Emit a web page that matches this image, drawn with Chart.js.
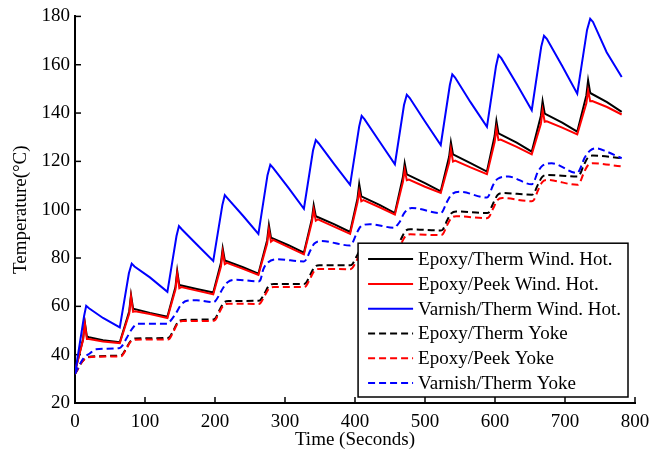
<!DOCTYPE html>
<html>
<head>
<meta charset="utf-8">
<script src="https://cdn.jsdelivr.net/npm/chart.js@4.4.1/dist/chart.umd.min.js"></script>
<style>
  html, body { margin: 0; padding: 0; background: #fff; }
  #wrap { width: 666px; height: 455px; }
</style>
</head>
<body>
<div id="wrap"><canvas id="grafico-temperatura"></canvas></div>
<script>
// series labels
var seriesLabels = ['Epoxy/Therm Wind. Hot.', 'Epoxy/Peek Wind. Hot.', 'Varnish/Therm Wind. Hot.',
	'Epoxy/Therm Yoke', 'Epoxy/Peek Yoke', 'Varnish/Therm Yoke'];

// Epoxy/Therm winding hot spot (time s, temperature C)
var epoxyThermWindT = [0, 11.5, 14, 17, 20, 40, 64,
	77.5, 80, 83, 107, 132,
	143.5, 146, 149, 174, 197.5,
	208.5, 211, 214, 240, 262,
	274.5, 277, 280, 305, 327,
	338.5, 341, 344, 370, 393,
	403.5, 406, 409, 435, 457,
	468.5, 471, 474, 500, 522.5,
	534.5, 537, 540, 565, 588.5,
	599.5, 602, 605, 631, 652.5,
	665.5, 668, 671, 696, 717.5,
	730.5, 733, 736, 760, 781];
var epoxyThermWindV = [33, 46.5, 53.5, 47.5, 47.2, 46, 45.1,
	58, 64.7, 59, 57.3, 55.7,
	68, 74.7, 68.8, 67.2, 65.7,
	78, 84, 79, 76.2, 73.5,
	87.4, 93.6, 88.4, 85.3, 82.2,
	96.3, 101.8, 97.3, 94, 90.8,
	104.5, 110.6, 105.5, 102, 98.6,
	113.6, 119.2, 114.6, 111, 107.6,
	122, 127.9, 122.9, 119.3, 115.8,
	130.6, 136.7, 131.6, 127.8, 124,
	138.8, 144.9, 139.8, 136, 132.3,
	147.3, 153.5, 148.3, 144.5, 140.5];

// Epoxy/Peek winding hot spot
var epoxyPeekWindT = [0, 11.5, 14, 17, 20, 40, 64,
	77.5, 80, 83, 86, 107, 132,
	143.5, 146, 149, 152, 174, 197.5,
	208.5, 211, 214, 217, 240, 262,
	274.5, 277, 280, 283, 305, 327,
	338.5, 341, 344, 347, 370, 393,
	403.5, 406, 409, 412, 435, 457,
	468.5, 471, 474, 477, 500, 522.5,
	534.5, 537, 540, 543, 565, 588.5,
	599.5, 602, 605, 608, 631, 652.5,
	665.5, 668, 671, 674, 696, 717.5,
	730.5, 733, 736, 739, 760, 781];
var epoxyPeekWindV = [33, 46, 53, 46.5, 46.5, 45.5, 44.8,
	57, 64, 57.8, 58, 56.8, 55.2,
	67, 73.5, 67.5, 68, 66.5, 65,
	76.5, 82.5, 77.5, 78, 75.5, 73,
	86, 91.8, 86.8, 87.5, 84.5, 81.5,
	95, 100, 95.5, 96, 93, 90,
	103, 107.6, 103.5, 104, 101, 98,
	111.5, 116.5, 112.2, 112.5, 109.5, 106.9,
	119.5, 125.1, 119.9, 120.3, 117.5, 114.7,
	128, 133.6, 128.8, 129, 126, 122.9,
	135.5, 141.2, 136.4, 136.6, 134, 131.2,
	144, 149.4, 144.9, 145, 142.5, 139.4];

// Varnish/Therm winding hot spot
var varnishWindT = [0, 13, 16, 20, 40, 64,
	77, 81, 85, 107, 132,
	145, 148.5, 152.5, 174, 197.5,
	210.5, 214, 218, 240, 262,
	275, 279, 283, 305, 327,
	340, 344, 348, 370, 393,
	406, 409.5, 413.5, 435, 457,
	470, 474, 478, 500, 522.5,
	535.5, 539, 543, 565, 588.5,
	601.5, 605, 609, 631, 652.5,
	666, 670, 674, 696, 717.5,
	731.5, 736, 740, 759.5, 781];
var varnishWindV = [32, 56, 60.2, 59.2, 55.2, 51.3,
	73.7, 77.7, 76.5, 72, 66,
	89.1, 93.2, 91.9, 85.6, 78.8,
	101.9, 106, 104.7, 97.5, 90,
	114.3, 118.6, 117.3, 109, 100.4,
	124.5, 128.8, 127.5, 119, 110.3,
	134.5, 138.8, 137.5, 128.2, 118.8,
	143.3, 147.6, 146.3, 136.5, 126.8,
	151.6, 156, 154.7, 144.5, 134.3,
	159.5, 164, 162.7, 152, 141.2,
	167.4, 172, 170.7, 159.5, 148,
	174.4, 179, 177.7, 165.2, 154.9];

// Epoxy/Therm yoke
var epoxyThermYokeT = [0, 4, 10, 18, 64,
	67, 73, 79, 86, 132,
	135, 141, 147, 154, 197.5,
	200.5, 206.5, 212.5, 219.5, 262,
	265, 271, 277, 284, 327,
	330, 336, 342, 349, 393,
	396, 402, 408, 415, 457,
	460, 466, 472, 479, 522.5,
	525.5, 531.5, 537.5, 544.5, 588.5,
	591.5, 597.5, 603.5, 610.5, 652.5,
	655.5, 661.5, 667.5, 674.5, 717.5,
	720.5, 726.5, 732.5, 739.5, 781];
var epoxyThermYokeV = [32, 34, 37, 39, 39.6,
	39.8, 42.5, 45.5, 46.7, 46.9,
	47.2, 50.3, 53.5, 54.4, 54.6,
	55, 58.5, 61.5, 62.2, 62.3,
	62.7, 65.5, 68.5, 69.3, 69.3,
	69.7, 73, 76.2, 77, 77,
	77.4, 80.5, 83.7, 84.5, 84.3,
	84.7, 88, 91.2, 91.9, 91.4,
	91.8, 95.5, 98.5, 99.3, 98.6,
	99, 102.7, 106, 106.9, 106.2,
	106.7, 110.5, 113.6, 114.4, 113.7,
	114.2, 118.2, 121.5, 122.4, 121.3];

// Epoxy/Peek yoke
var epoxyPeekYokeT = epoxyThermYokeT;
var epoxyPeekYokeV = [32, 34, 37, 38.9, 39.3,
	39.5, 42.2, 45.2, 46.2, 46.3,
	46.6, 49.8, 53, 53.9, 54,
	54.4, 57.7, 60.5, 61.1, 61,
	61.4, 64.4, 67.3, 68, 68,
	68.4, 71.6, 74.7, 75.5, 75.4,
	75.8, 78.8, 81.8, 82.6, 82.4,
	82.8, 86, 89, 89.8, 89.5,
	89.9, 93.5, 96.5, 97.3, 96.5,
	97, 100.6, 104, 104.8, 103.5,
	104, 108, 111.4, 112.3, 110.3,
	110.8, 115, 118.3, 119.2, 117.9];

// Varnish/Therm yoke
var varnishYokeT = [0, 5, 12, 21, 30, 64,
	67, 74, 81, 90, 132,
	135, 145, 151, 160, 174, 197.5,
	200.5, 212, 218, 231, 262,
	265, 269, 275, 288, 327,
	330, 336, 342, 352, 393,
	396, 402, 408, 421, 457,
	460, 464, 470, 481, 522.5,
	525.5, 531, 538, 550, 588.5,
	591.5, 597, 604, 619, 652.5,
	655.5, 661, 668, 681, 717.5,
	720.5, 728, 736, 745, 760, 781];
var varnishYokeV = [32, 35, 38.5, 40.5, 42.2, 42.8,
	43.5, 47, 50.5, 52.8, 52.8,
	53.5, 57.5, 60.5, 62.3, 62.5, 61.7,
	62.2, 67.8, 70, 71, 70.3,
	71, 75.3, 78, 79.5, 78.6,
	79.3, 83, 86, 87, 85.2,
	86, 90, 93, 94, 92.5,
	93.5, 95, 98.5, 100.7, 98.6,
	99.5, 103, 106.3, 107.4, 105,
	106, 110, 112.8, 113.7, 110.5,
	111.5, 115.5, 118.3, 119.2, 115.2,
	116.2, 121.5, 124.5, 125.4, 124, 121.3];

var serieCores = ['#000000', '#ff0000', '#0000ff', '#000000', '#ff0000', '#0000ff'];
var xTicksMax = 800, yTicksMin = 20, yTicksMax = 180;

var fonte = 'Liberation Serif, Times New Roman, serif';

function pontos(ts, vs) {
	return ts.map(function (t, i) { return { x: t, y: vs[i] }; });
}

function serie(idx, ts, vs, tracejada) {
	var ds = {
		label: seriesLabels[idx],
		data: pontos(ts, vs),
		borderColor: serieCores[idx],
		backgroundColor: serieCores[idx],
		borderWidth: 2,
		borderDash: tracejada ? [7, 4] : [],
		pointRadius: 0,
		fill: false,
		tension: 0,
		order: 6 - idx
	};
	if (tracejada) ds.cubicInterpolationMode = 'monotone';
	return ds;
}

// inward tick marks like the original figure
var ticksInternos = {
	id: 'ticksInternos',
	beforeDatasetsDraw: function (chart) {
		var ctx = chart.ctx, area = chart.chartArea;
		var x = chart.scales.x, y = chart.scales.y;
		ctx.save();
		ctx.strokeStyle = '#000';
		ctx.lineWidth = 1.5;
		x.ticks.forEach(function (t) {
			var px = x.getPixelForValue(t.value);
			ctx.beginPath(); ctx.moveTo(px, area.bottom); ctx.lineTo(px, area.bottom - 6); ctx.stroke();
		});
		y.ticks.forEach(function (t) {
			var py = y.getPixelForValue(t.value);
			ctx.beginPath(); ctx.moveTo(area.left, py); ctx.lineTo(area.left + 6, py); ctx.stroke();
		});
		ctx.restore();
	}
};

// boxed legend inside the plot, lower right
var legendaCaixa = {
	id: 'legendaCaixa',
	afterDraw: function (chart) {
		var ctx = chart.ctx, area = chart.chartArea;
		var ds = chart.data.datasets;
		ctx.save();
		ctx.font = '19px ' + fonte;
		var maxW = 0;
		ds.forEach(function (d) { maxW = Math.max(maxW, ctx.measureText(d.label).width); });
		var linha = 24.8, amostra = 45;
		var w = 10 + amostra + 5 + maxW + 7;
		var h = ds.length * linha + 5;
		var right = area.right - 7, bottom = area.bottom - 6;
		var left = right - w, top = bottom - h;
		ctx.fillStyle = '#fff';
		ctx.fillRect(left, top, w, h);
		ctx.strokeStyle = '#000';
		ctx.lineWidth = 1.5;
		ctx.strokeRect(left, top, w, h);
		ds.forEach(function (d, i) {
			var cy = top + 3.5 + linha * i + linha / 2;
			ctx.beginPath();
			ctx.setLineDash(d.borderDash);
			ctx.strokeStyle = d.borderColor;
			ctx.lineWidth = 2;
			ctx.moveTo(left + 10, cy);
			ctx.lineTo(left + 10 + amostra, cy);
			ctx.stroke();
			ctx.setLineDash([]);
			ctx.fillStyle = '#000';
			ctx.textBaseline = 'middle';
			ctx.fillText(d.label, left + 10 + amostra + 5, cy + 1);
		});
		ctx.restore();
	}
};

var ctx = document.getElementById('grafico-temperatura');

var dadosGrafico = {
	datasets: [
		serie(0, epoxyThermWindT, epoxyThermWindV, false),
		serie(1, epoxyPeekWindT, epoxyPeekWindV, false),
		serie(2, varnishWindT, varnishWindV, false),
		serie(3, epoxyThermYokeT, epoxyThermYokeV, true),
		serie(4, epoxyPeekYokeT, epoxyPeekYokeV, true),
		serie(5, varnishYokeT, varnishYokeV, true)
	]
};

var opcoes = {
	responsive: true,
	maintainAspectRatio: false,
	animation: false,
	layout: { padding: { top: 14, right: 31, left: 0, bottom: 0 } },
	plugins: { legend: { display: false }, tooltip: { enabled: false } },
	scales: {
		x: {
			type: 'linear',
			min: 0,
			max: xTicksMax,
			grid: { display: false, drawTicks: false },
			border: { display: true, color: '#000', width: 2 },
			ticks: { stepSize: 100, color: '#000', padding: 8, maxRotation: 0, font: { family: fonte, size: 19 } },
			title: { display: true, text: 'Time (Seconds)', color: '#000', padding: { top: 0, bottom: 4 }, font: { family: fonte, size: 19 } },
			afterFit: function (scale) { scale.height = 52; }
		},
		y: {
			type: 'linear',
			min: yTicksMin,
			max: yTicksMax,
			grid: { display: false, drawTicks: false },
			border: { display: true, color: '#000', width: 2 },
			ticks: { stepSize: 20, color: '#000', padding: 5, font: { family: fonte, size: 19 } },
			title: { display: true, text: 'Temperature(°C)', color: '#000', padding: { top: 10, bottom: 0 }, font: { family: fonte, size: 19 } },
			afterFit: function (scale) { scale.width = 75; }
		}
	}
};

var graficoTemperatura = new Chart(ctx, {
	type: 'line',
	data: dadosGrafico,
	options: opcoes,
	plugins: [ticksInternos, legendaCaixa]
});
</script>
</body>
</html>
